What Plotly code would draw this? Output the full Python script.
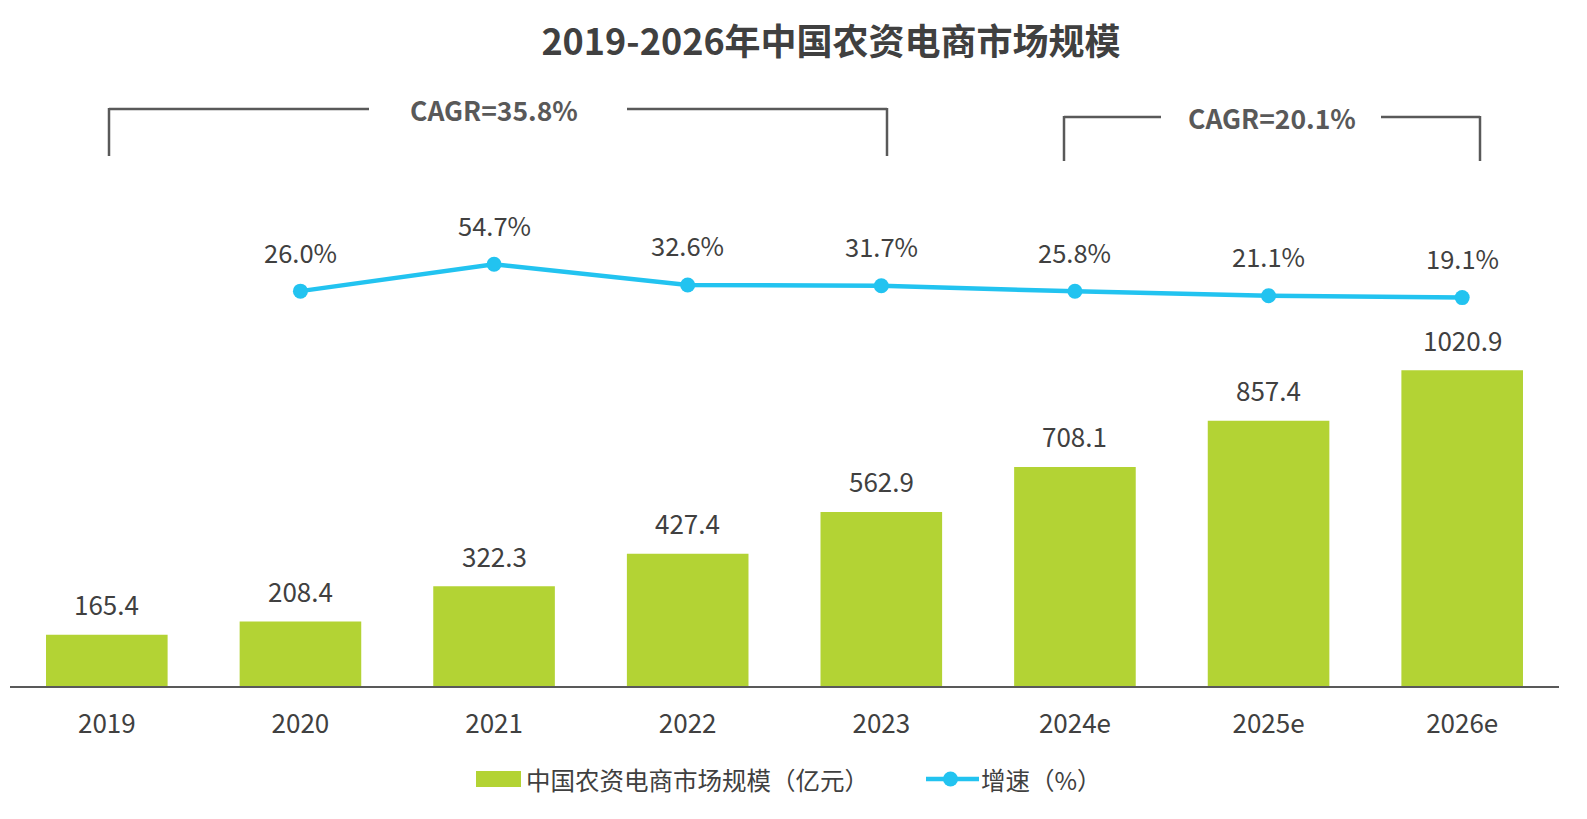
import plotly.graph_objects as go

years = ["2019", "2020", "2021", "2022", "2023", "2024e", "2025e", "2026e"]
market_size = [165.4, 208.4, 322.3, 427.4, 562.9, 708.1, 857.4, 1020.9]
growth_years = ["2020", "2021", "2022", "2023", "2024e", "2025e", "2026e"]
growth_rate = [26.0, 54.7, 32.6, 31.7, 25.8, 21.1, 19.1]

W, H = 1587, 819
L, R, T, B = 10, 28, 100, 133
PW, PH = W - L - R, H - T - B

def px(x):
    return (x - L) / PW

def py(y):
    return (H - B - y) / PH

FONT = "Microsoft YaHei, Noto Sans CJK SC, Noto Sans, sans-serif"
TXT = "#404040"
GREEN = "#b3d334"
BLUE = "#22c3f0"
GRAY = "#595959"

fig = go.Figure()
fig.add_trace(go.Bar(x=years, y=market_size, marker=dict(color=GREEN, line=dict(width=0)),
                     name="中国农资电商市场规模（亿元）", yaxis="y", showlegend=False))
fig.add_trace(go.Scatter(x=growth_years, y=growth_rate, mode="lines+markers",
                         line=dict(color=BLUE, width=4.5), marker=dict(color=BLUE, size=15),
                         name="增速（%）", yaxis="y2", showlegend=False))

annotations = []
for x, v in zip(years, market_size):
    annotations.append(dict(x=years.index(x), y=v, xref="x", yref="y", text=f"{v:.1f}", showarrow=False,
                            xanchor="center", yanchor="middle",
                            yshift=31, font=dict(size=26, color=TXT, family=FONT)))
for x, v in zip(growth_years, growth_rate):
    annotations.append(dict(x=years.index(x), y=v, xref="x", yref="y2", text=f"{v:.1f}%", showarrow=False,
                            xanchor="center", yanchor="middle",
                            yshift=40, font=dict(size=25.5, color=TXT, family=FONT)))

def ann_paper(x, y, text, size, color, xanchor="center"):
    annotations.append(dict(x=px(x), y=py(y), xref="paper", yref="paper", text=text, showarrow=False,
                            xanchor=xanchor, yanchor="middle", font=dict(size=size, color=color, family=FONT)))

# CAGR labels
ann_paper(494, 109, "<b>CAGR=35.8%</b>", 26.5, GRAY)
ann_paper(1272, 117, "<b>CAGR=20.1%</b>", 26.5, GRAY)

# legend texts
ann_paper(524, 779, "中国农资电商市场规模（亿元）", 24.5, TXT, "left")
ann_paper(979, 779, "增速（%）", 24.5, TXT, "left")

shapes = []
def seg(x0, y0, x1, y1, color=GRAY, width=2.5):
    shapes.append(dict(type="line", xref="paper", yref="paper", x0=px(x0), y0=py(y0), x1=px(x1), y1=py(y1),
                       line=dict(color=color, width=width)))

# left bracket
seg(109, 109, 369, 109); seg(627, 109, 887, 109)
seg(109, 108, 109, 156); seg(887, 108, 887, 156)
# right bracket
seg(1064, 117, 1161, 117); seg(1381, 117, 1480, 117)
seg(1064, 116, 1064, 161); seg(1480, 116, 1480, 161)

# legend symbols
shapes.append(dict(type="rect", xref="paper", yref="paper", x0=px(476), x1=px(521), y0=py(771), y1=py(787),
                   fillcolor=GREEN, line=dict(width=0)))
seg(926, 779, 979, 779, color=BLUE, width=4.5)
shapes.append(dict(type="circle", xref="paper", yref="paper", x0=px(943), x1=px(958), y0=py(771.5), y1=py(786.5),
                   fillcolor=BLUE, line=dict(width=0)))

fig.update_layout(
    width=W, height=H,
    margin=dict(l=L, r=R, t=T, b=B),
    paper_bgcolor="white", plot_bgcolor="white",
    title=dict(text="<b>2019-2026年中国农资电商市场规模</b>", x=831 / W, xref="container", xanchor="center",
               y=1 - 42 / H, yref="container", yanchor="middle",
               font=dict(size=36, color=TXT, family=FONT)),
    bargap=0.372,
    showlegend=False,
    xaxis=dict(type="category", showline=True, linecolor=GRAY, linewidth=1.5, showgrid=False,
               ticks="", ticklabelstandoff=14, tickfont=dict(size=26, color=TXT, family=FONT),
               range=[-0.5, 7.5]),
    yaxis=dict(range=[0, PH / 0.3093], visible=False, showgrid=False, zeroline=False),
    yaxis2=dict(range=[19.1 - (H - B - 297.6) / 0.938, 19.1 - (H - B - 297.6) / 0.938 + PH / 0.938],
                overlaying="y", visible=False, showgrid=False, zeroline=False),
    annotations=annotations,
    shapes=shapes,
)

fig.write_html("out.html")
